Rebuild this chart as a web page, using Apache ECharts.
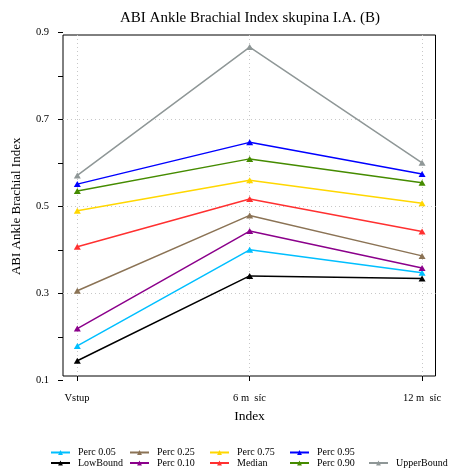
<!DOCTYPE html>
<html>
<head>
<meta charset="utf-8">
<script src="https://cdn.jsdelivr.net/npm/echarts@6/dist/echarts.min.js"></script>
<style>html,body{margin:0;padding:0;background:#fff}#c{width:449px;height:469px}</style>
</head>
<body>
<div id="c"></div>
<script>
var categories = ['Vstup', '6 m\u00a0\u00a0síc', '12 m\u00a0\u00a0síc'];
var perc05 = [0.179, 0.400, 0.347];
var perc25 = [0.306, 0.479, 0.386];
var perc75 = [0.490, 0.560, 0.507];
var perc95 = [0.551, 0.647, 0.574];
var lowBound = [0.145, 0.340, 0.334];
var perc10 = [0.219, 0.443, 0.358];
var median = [0.407, 0.517, 0.442];
var perc90 = [0.535, 0.609, 0.554];
var upperBound = [0.571, 0.866, 0.600];
var yGridLines = [0.3, 0.5, 0.7];

var FONT = "'Liberation Serif', 'Times New Roman', serif";
var seriesDefs = [
  {name: 'Perc 0.05', data: perc05, color: '#00BFFF'},
  {name: 'Perc 0.25', data: perc25, color: '#8B7355'},
  {name: 'Perc 0.75', data: perc75, color: '#FFD700'},
  {name: 'Perc 0.95', data: perc95, color: '#0000FF'},
  {name: 'LowBound', data: lowBound, color: '#000000'},
  {name: 'Perc 0.10', data: perc10, color: '#8B008B'},
  {name: 'Median', data: median, color: '#FF3030'},
  {name: 'Perc 0.90', data: perc90, color: '#458B00'},
  {name: 'UpperBound', data: upperBound, color: '#8F9797'}
];
var legendPos = [
  [50, 447.5], [129, 447.5], [209, 447.5], [289, 447.5],
  [50, 458], [129, 458], [209, 458], [289, 458], [368, 458]
];

var series = seriesDefs.map(function (s, i) {
  var o = {
    name: s.name, type: 'line', xAxisIndex: 0, yAxisIndex: 0,
    data: s.data.map(function (v, k) { return [k, v]; }),
    symbol: 'triangle', symbolSize: [7, 6],
    lineStyle: {color: s.color, width: 1.5},
    itemStyle: {color: s.color},
    animation: false, z: 5
  };
  if (i === 0) {
    o.markLine = {
      silent: true, symbol: 'none', animation: false,
      label: {show: false},
      lineStyle: {color: '#c8c8c8', type: [1, 3], width: 1},
      data: yGridLines.map(function (y) { return {yAxis: y}; }),
      z: 1
    };
  }
  return o;
});

var legends = seriesDefs.map(function (s, i) {
  return {
    data: [s.name], left: legendPos[i][0], top: legendPos[i][1],
    padding: 0, itemWidth: 19, itemHeight: 6,
    textStyle: {fontFamily: FONT, fontSize: 10, color: '#000', padding: [0, 0, 0, 3]},
    selectedMode: false
  };
});

var chart = echarts.init(document.getElementById('c'), null, {renderer: 'canvas'});
chart.setOption({
  backgroundColor: '#fff',
  animation: false,
  title: {
    text: 'ABI Ankle Brachial Index skupina I.A. (B)',
    left: 120, top: 11, padding: 0,
    textStyle: {fontFamily: FONT, fontSize: 15, fontWeight: 'normal', color: '#000'}
  },
  legend: legends,
  grid: [
    {left: 63, right: 13.5, top: 32.3, bottom: 88.7},
    {left: 63, right: 13.5, top: 35, bottom: 93, show: true, borderColor: '#000', borderWidth: 1, backgroundColor: 'transparent'},
    {left: 77, right: 27, top: 35, bottom: 93}
  ],
  xAxis: [
    {type: 'value', gridIndex: 0, min: -0.083, max: 2.078, show: false},
    {type: 'value', gridIndex: 1, show: false},
    {
      type: 'category', gridIndex: 2, data: categories, boundaryGap: false,
      axisLine: {show: false},
      axisTick: {show: true, length: 5, inside: false, lineStyle: {color: '#000'}},
      axisLabel: {fontFamily: FONT, fontSize: 10.5, color: '#000', margin: 17},
      splitLine: {show: true, lineStyle: {color: '#c8c8c8', type: [1, 3], width: 1}},
      name: 'Index', nameLocation: 'middle', nameGap: 33,
      nameTextStyle: {fontFamily: FONT, fontSize: 13.5, color: '#000'}
    }
  ],
  yAxis: [
    {
      type: 'value', gridIndex: 0, min: 0.1, max: 0.9, interval: 0.2,
      axisLine: {show: false, onZero: false},
      axisTick: {show: true, length: 5, lineStyle: {color: '#000'}},
      minorTick: {show: true, splitNumber: 2, length: 5, lineStyle: {color: '#000'}},
      splitLine: {show: false},
      axisLabel: {fontFamily: FONT, fontSize: 10.5, color: '#000', margin: 14,
        formatter: function (v) { return v.toFixed(1); }},
      name: 'ABI Ankle Brachial Index', nameLocation: 'middle', nameGap: 40,
      nameTextStyle: {fontFamily: FONT, fontSize: 13, color: '#000'}
    },
    {type: 'value', gridIndex: 1, show: false},
    {type: 'value', gridIndex: 2, show: false}
  ],
  series: series
});
</script>
</body>
</html>
